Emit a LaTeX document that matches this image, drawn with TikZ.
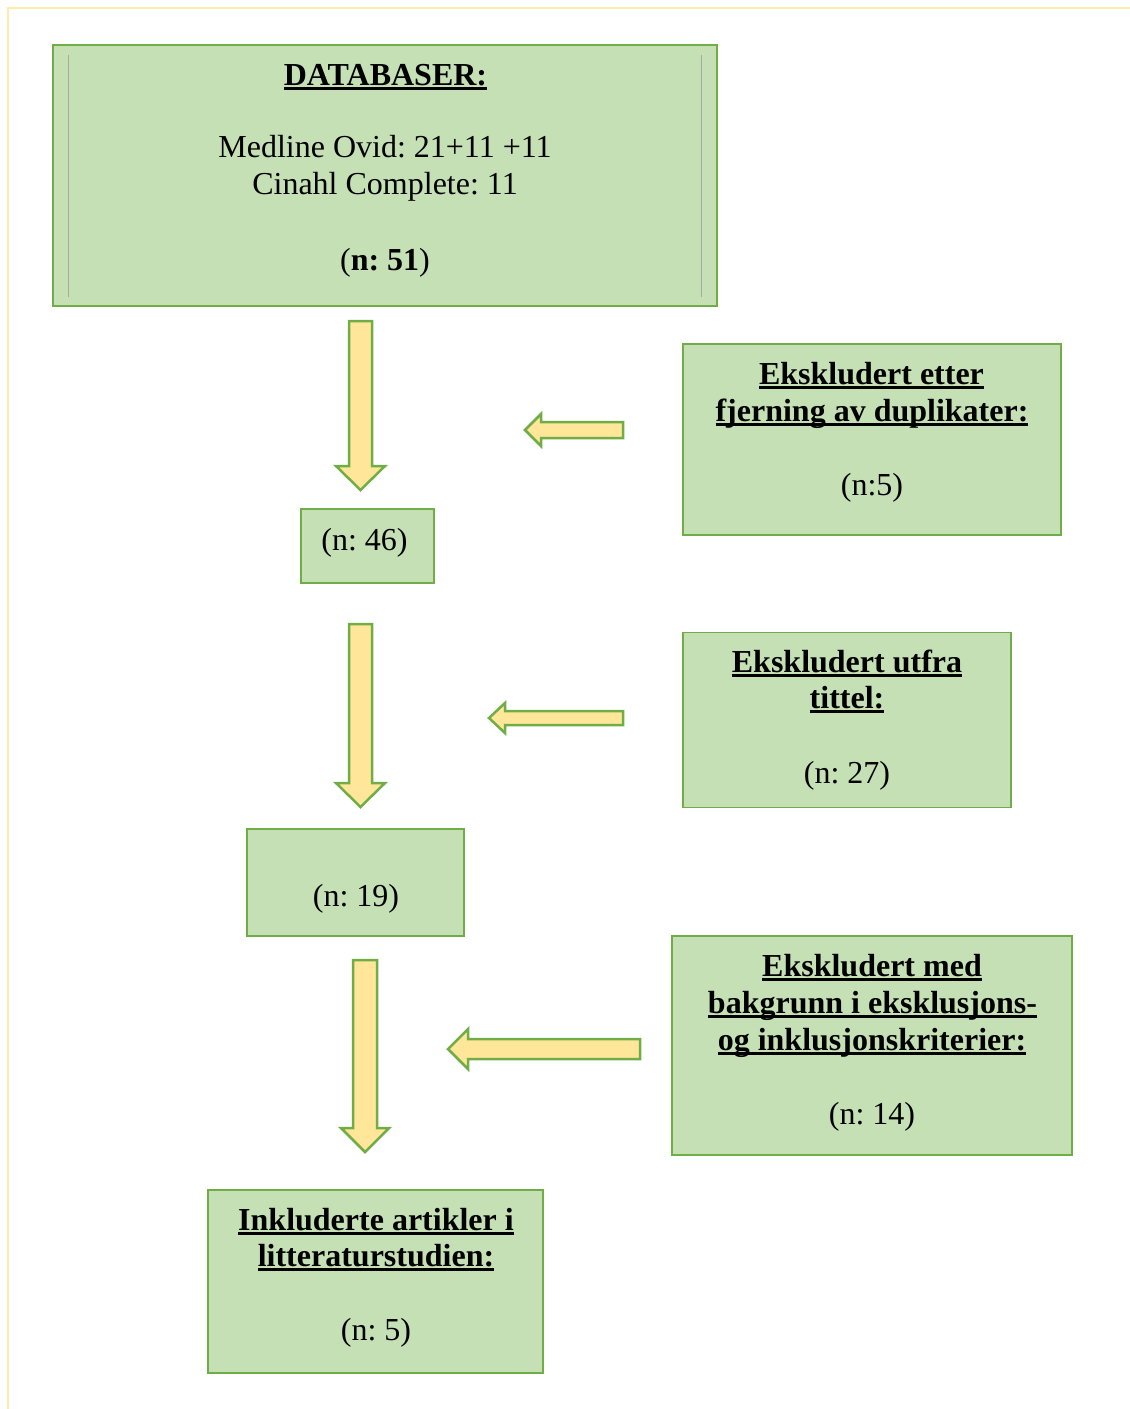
\documentclass[tikz,border=0pt]{standalone}
\usepackage{fontspec}
\setmainfont{Liberation Serif}
\frenchspacing
\newsavebox\myulbox
\newcommand\myuline[1]{\sbox\myulbox{#1}\rlap{\rule[-4.5pt]{\wd\myulbox}{3pt}}\usebox\myulbox}
\definecolor{boxfill}{HTML}{C5E0B4}
\definecolor{boxline}{HTML}{70AD47}
\definecolor{arrfill}{HTML}{FFE699}
\definecolor{framecol}{HTML}{FFEAAA}
\definecolor{innergrey}{HTML}{A8A8A8}
\begin{document}
\begin{tikzpicture}[x=1pt,y=-1pt,
  box/.style={draw=boxline,fill=boxfill,line width=1.5pt,inner sep=0pt,rectangle},
  txt/.style={anchor=base,inner sep=0pt,font=\fontsize{32}{37}\selectfont},
  btxt/.style={txt,font=\fontsize{32}{37}\selectfont\bfseries},
  blockarrow/.style={draw=boxline,fill=arrfill,line width=2.5pt,line join=miter}]
\useasboundingbox (0,0) rectangle (1130,1409);
% page frame
\draw[framecol,line width=1.5pt] (8,1409) -- (8,8) -- (1130,8);

% boxes
\node[box,minimum width=664pt,minimum height=261pt] (db) at (385,175.5) {};
\draw[innergrey,line width=0.8pt] (68,55) -- (68,297);
\draw[innergrey,line width=0.8pt] (701,55) -- (701,297);
\node[btxt] (dbt1) at (385.5,85) {\myuline{DATABASER:}};
\node[txt] (dbt2) at (385,157) {Medline Ovid: 21+11 +11};
\node[txt] (dbt3) at (385,194) {Cinahl Complete: 11};
\node[txt] (dbt4) at (385,270) {(\textbf{n: 51})};

\node[box,minimum width=133pt,minimum height=74pt] (n46) at (367.5,546) {};
\node[txt] (n46t) at (364.5,550) {(n: 46)};

\node[box,minimum width=378pt,minimum height=191pt] (ex1) at (872,439.5) {};
\node[btxt] (ex1t1) at (871.5,384) {\myuline{Ekskludert etter}};
\node[btxt] (ex1t2) at (872,421) {\myuline{fjerning av duplikater:}};
\node[txt] (ex1t3) at (872,495) {(n:5)};

\node[box,minimum width=328pt,minimum height=175pt] (ex2) at (847,720) {};
\node[btxt] (ex2t1) at (847,672) {\myuline{Ekskludert utfra}};
\node[btxt] (ex2t2) at (847,708) {\myuline{tittel:}};
\node[txt] (ex2t3) at (847,783) {(n: 27)};

\node[box,minimum width=217pt,minimum height=107pt] (n19) at (355.5,882.5) {};
\node[txt] (n19t) at (356,906) {(n: 19)};

\node[box,minimum width=400pt,minimum height=219pt] (ex3) at (872,1045.5) {};
\node[btxt] (ex3t1) at (872,976) {\myuline{Ekskludert med}};
\node[btxt] (ex3t2) at (872.5,1013) {\myuline{bakgrunn i eksklusjons-}};
\node[btxt] (ex3t3) at (872,1050) {\myuline{og inklusjonskriterier:}};
\node[txt] (ex3t4) at (872,1124) {(n: 14)};

\node[box,minimum width=335pt,minimum height=183pt] (inc) at (375.5,1281.5) {};
\node[btxt] (inct1) at (376,1230) {\myuline{Inkluderte artikler i}};
\node[btxt] (inct2) at (376,1266) {\myuline{litteraturstudien:}};
\node[txt] (inct3) at (376,1340) {(n: 5)};

% block arrows down
\draw[blockarrow] (349,321) -- (372,321) -- (372,466) -- (385,466) -- (360.5,490) -- (336,466) -- (349,466) -- cycle;
\draw[blockarrow] (349,624) -- (372,624) -- (372,783) -- (385,783) -- (360.5,807) -- (336,783) -- (349,783) -- cycle;
\draw[blockarrow] (353,960) -- (377,960) -- (377,1128) -- (389,1128) -- (365,1152) -- (341,1128) -- (353,1128) -- cycle;
% block arrows left
\draw[blockarrow] (623,422) -- (541,422) -- (541,414) -- (525,430) -- (541,446) -- (541,438) -- (623,438) -- cycle;
\draw[blockarrow] (623,711) -- (505,711) -- (505,703) -- (489,718) -- (505,733) -- (505,725) -- (623,725) -- cycle;
\draw[blockarrow] (640,1039) -- (468,1039) -- (468,1029) -- (448,1049) -- (468,1069) -- (468,1059) -- (640,1059) -- cycle;
\end{tikzpicture}
\end{document}
